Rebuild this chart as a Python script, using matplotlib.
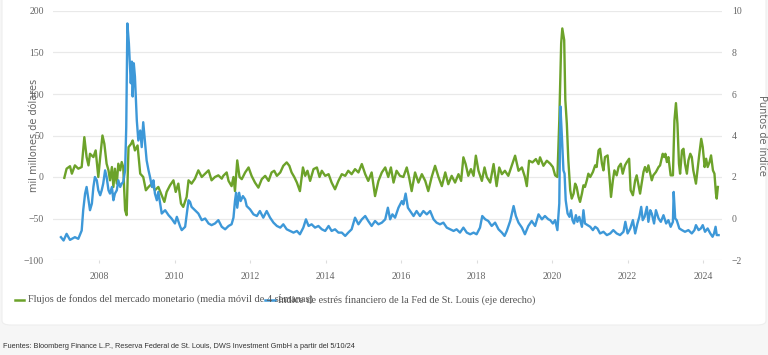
import matplotlib
matplotlib.use("Agg")
import matplotlib.pyplot as plt
from matplotlib.lines import Line2D
from matplotlib.patches import FancyBboxPatch

# ---------------- data ----------------
# Money market fund flows, 4-week moving average (bn USD, left axis)
green_year = [2007.08, 2007.14, 2007.23, 2007.28, 2007.36, 2007.45, 2007.54, 2007.61, 2007.67, 2007.72,
              2007.76, 2007.85, 2007.91, 2007.98, 2008.03, 2008.09, 2008.14, 2008.20, 2008.25, 2008.29,
              2008.34, 2008.38, 2008.42, 2008.47, 2008.51, 2008.56, 2008.60, 2008.64, 2008.69, 2008.73,
              2008.78, 2008.85, 2008.89, 2008.95, 2009.02, 2009.09, 2009.17, 2009.24, 2009.31, 2009.40,
              2009.48, 2009.57, 2009.66, 2009.73, 2009.79, 2009.88, 2009.97, 2010.03, 2010.10, 2010.17,
              2010.23, 2010.32, 2010.37, 2010.45, 2010.54, 2010.63, 2010.72, 2010.81, 2010.90, 2010.98,
              2011.07, 2011.16, 2011.25, 2011.29, 2011.38, 2011.43, 2011.51, 2011.56, 2011.60, 2011.66,
              2011.72, 2011.78, 2011.87, 2011.96, 2012.04, 2012.13, 2012.22, 2012.31, 2012.40, 2012.49,
              2012.57, 2012.64, 2012.71, 2012.80, 2012.88, 2012.97, 2013.04, 2013.10, 2013.17, 2013.24,
              2013.32, 2013.40, 2013.46, 2013.52, 2013.59, 2013.68, 2013.77, 2013.84, 2013.90, 2013.99,
              2014.08, 2014.16, 2014.25, 2014.34, 2014.43, 2014.52, 2014.60, 2014.69, 2014.78, 2014.87,
              2014.96, 2015.05, 2015.13, 2015.22, 2015.31, 2015.40, 2015.49, 2015.58, 2015.66, 2015.73,
              2015.80, 2015.88, 2015.97, 2016.06, 2016.15, 2016.21, 2016.28, 2016.37, 2016.46, 2016.55,
              2016.64, 2016.72, 2016.81, 2016.90, 2016.99, 2017.08, 2017.17, 2017.25, 2017.34, 2017.43,
              2017.52, 2017.59, 2017.65, 2017.71, 2017.78, 2017.85, 2017.92, 2017.98, 2018.05, 2018.14,
              2018.21, 2018.27, 2018.36, 2018.45, 2018.53, 2018.60, 2018.67, 2018.75, 2018.84, 2018.93,
              2019.02, 2019.11, 2019.20, 2019.28, 2019.33, 2019.39, 2019.48, 2019.57, 2019.64, 2019.68,
              2019.77, 2019.86, 2019.95, 2020.02, 2020.08, 2020.14, 2020.19, 2020.24, 2020.27, 2020.32,
              2020.35, 2020.39, 2020.43, 2020.48, 2020.52, 2020.57, 2020.61, 2020.65, 2020.70, 2020.74,
              2020.79, 2020.83, 2020.87, 2020.92, 2020.96, 2021.01, 2021.08, 2021.14, 2021.18, 2021.23,
              2021.27, 2021.32, 2021.36, 2021.40, 2021.47, 2021.52, 2021.56, 2021.61, 2021.65, 2021.71,
              2021.76, 2021.82, 2021.87, 2021.93, 2021.98, 2022.04, 2022.08, 2022.14, 2022.20, 2022.24,
              2022.29, 2022.33, 2022.38, 2022.42, 2022.46, 2022.51, 2022.55, 2022.60, 2022.64, 2022.68,
              2022.75, 2022.82, 2022.86, 2022.93, 2022.97, 2023.00, 2023.04, 2023.08, 2023.14, 2023.20,
              2023.24, 2023.28, 2023.32, 2023.36, 2023.39, 2023.44, 2023.48, 2023.52, 2023.57, 2023.61,
              2023.66, 2023.70, 2023.74, 2023.81, 2023.85, 2023.90, 2023.95, 2023.99, 2024.04, 2024.08,
              2024.12, 2024.17, 2024.21, 2024.26, 2024.30, 2024.34, 2024.36, 2024.39]
green_val = [-1, 10, 13, 4, 14, 10, 12, 48, 24, 14,
             28, 24, 32, 0, 24, 50, 40, 16, 8, -4,
             12, -12, 10, -8, 16, 8, 18, 12, -40, -46,
             36, 40, 44, 32, 38, 4, 0, -16, -12, -8,
             -16, -12, -22, -30, -18, -10, -4, -18, -8, -32,
             -36, -24, -4, -8, -2, 8, 0, 4, 8, -4,
             0, 2, -2, 1.4, 5.5, -4.7, -11, 0, -17, 20,
             0, -2.6, 5.5, 11.5, 1.4, -6.7, -12.8, -2.6, 1.4, -4.7,
             5.5, 7.5, 1.4, 5.5, 13.5, 17.6, 13.5, 5.5, 0, -6.7,
             -17, 11.5, 1.4, 7.5, -4.7, 9.5, 11.5, 0, 7.5, 1.4,
             3.4, -6.7, -14.8, -4.7, 3.4, 1.4, 7.5, 3.4, 9.5, 5.5,
             15.6, 3.4, -4.7, 5.5, -23, -4.7, 5.5, 11.5, 0, 11.5,
             -6.7, 7.5, 1.4, 0, 11.5, 0, -17, 5.5, -6.7, 3.4,
             -4.7, -17, 0, 13.5, 0, -11, 5.5, -8.7, 1.4, -6.7,
             3.4, -4.7, 23.7, 15.6, 1.4, 9.5, 1.4, 25.7, 7.5, -4.7,
             11.5, 0, -6.7, 15.6, -11, 11.5, 3.4, 7.5, 1.4, 13.5,
             25.7, 7.5, 11.5, 0, -11, 19.6, 17.6, 21.6, 15.6, 23.7,
             13.5, 19.6, 16, 12, 2, 0, 68, 161, 179, 165,
             93, 64, 20, -16, -26, -20, -8, -12, -24, -30,
             -20, -10, -12, -4, 4, 0, 6, 14, 12, 32,
             34, 16, 8, 24, 26, 0, -24, -4, 8, 2,
             12, 16, 4, 14, 18, 22, -16, -22, -4, 2,
             -10, -20, -6, 6, 12, 6, 14, 4, -4, 2,
             6, 12, 14, 28, 24, 28, 18, 24, 2, 2,
             68, 89, 64, 16, 4, 32, 34, 16, 4, 20,
             28, 24, 8, -8, 8, 28, 46, 36, 12, 22,
             12, 18, 26, 8, 4, -20, -26, -12]

# St. Louis Fed Financial Stress Index (index points, right axis)
blue_year = [2006.99, 2007.06, 2007.14, 2007.23, 2007.36, 2007.45, 2007.54, 2007.58, 2007.63, 2007.67,
             2007.72, 2007.76, 2007.81, 2007.85, 2007.89, 2007.94, 2007.98, 2008.03, 2008.07, 2008.11,
             2008.16, 2008.20, 2008.25, 2008.29, 2008.34, 2008.38, 2008.42, 2008.47, 2008.51, 2008.56,
             2008.60, 2008.64, 2008.69, 2008.72, 2008.75, 2008.79, 2008.84, 2008.87, 2008.89, 2008.92,
             2008.95, 2009.00, 2009.04, 2009.09, 2009.13, 2009.17, 2009.22, 2009.26, 2009.31, 2009.35,
             2009.40, 2009.44, 2009.48, 2009.53, 2009.57, 2009.62, 2009.66, 2009.75, 2009.84, 2009.92,
             2010.01, 2010.06, 2010.15, 2010.19, 2010.28, 2010.37, 2010.41, 2010.45, 2010.54, 2010.63,
             2010.72, 2010.81, 2010.90, 2010.98, 2011.07, 2011.16, 2011.25, 2011.34, 2011.43, 2011.51,
             2011.56, 2011.60, 2011.63, 2011.66, 2011.71, 2011.75, 2011.81, 2011.87, 2011.91, 2012.00,
             2012.09, 2012.18, 2012.26, 2012.35, 2012.44, 2012.53, 2012.62, 2012.71, 2012.80, 2012.88,
             2012.97, 2013.06, 2013.15, 2013.24, 2013.32, 2013.41, 2013.48, 2013.55, 2013.63, 2013.72,
             2013.81, 2013.90, 2013.99, 2014.08, 2014.16, 2014.25, 2014.34, 2014.43, 2014.52, 2014.60,
             2014.69, 2014.78, 2014.87, 2014.96, 2015.05, 2015.13, 2015.22, 2015.31, 2015.40, 2015.49,
             2015.58, 2015.65, 2015.71, 2015.77, 2015.84, 2015.93, 2016.02, 2016.06, 2016.12, 2016.18,
             2016.24, 2016.33, 2016.41, 2016.50, 2016.59, 2016.68, 2016.77, 2016.86, 2016.94, 2017.03,
             2017.12, 2017.21, 2017.30, 2017.39, 2017.47, 2017.56, 2017.65, 2017.74, 2017.83, 2017.92,
             2018.00, 2018.09, 2018.15, 2018.23, 2018.31, 2018.40, 2018.49, 2018.58, 2018.67, 2018.74,
             2018.80, 2018.89, 2018.98, 2019.04, 2019.11, 2019.20, 2019.28, 2019.37, 2019.46, 2019.55,
             2019.64, 2019.73, 2019.81, 2019.90, 2019.95, 2020.02, 2020.08, 2020.14, 2020.19, 2020.22,
             2020.26, 2020.30, 2020.33, 2020.36, 2020.41, 2020.46, 2020.50, 2020.54, 2020.58, 2020.63,
             2020.67, 2020.72, 2020.79, 2020.83, 2020.87, 2020.94, 2021.01, 2021.08, 2021.14, 2021.20,
             2021.27, 2021.36, 2021.45, 2021.54, 2021.62, 2021.71, 2021.80, 2021.89, 2021.94, 2022.00,
             2022.07, 2022.14, 2022.20, 2022.26, 2022.31, 2022.36, 2022.40, 2022.45, 2022.51, 2022.55,
             2022.60, 2022.64, 2022.70, 2022.75, 2022.82, 2022.88, 2022.95, 2023.02, 2023.08, 2023.14,
             2023.20, 2023.22, 2023.26, 2023.30, 2023.37, 2023.44, 2023.52, 2023.61, 2023.70, 2023.77,
             2023.81, 2023.88, 2023.94, 2023.99, 2024.05, 2024.12, 2024.19, 2024.25, 2024.29, 2024.33,
             2024.36, 2024.41]
blue_val = [-0.90, -1.06, -0.74, -1.03, -0.90, -0.98, -0.58, 0.40, 1.20, 1.52,
            0.88, 0.40, 0.72, 1.52, 2.00, 1.84, 1.36, 1.12, 1.36, 1.68,
            2.32, 2.00, 1.36, 1.20, 1.52, 0.88, 1.20, 1.36, 1.84, 1.52,
            1.68, 1.76, 2.32, 4.40, 9.40, 8.44, 6.52, 7.56, 5.88, 7.48,
            6.84, 4.72, 3.76, 4.24, 3.44, 4.64, 3.60, 2.80, 2.32, 2.00,
            1.52, 1.84, 1.20, 0.88, 1.28, 0.72, 0.24, 0.40, 0.16, 0.00,
            -0.24, 0.08, -0.40, -0.56, -0.40, 0.88, 0.80, 0.56, 0.40, 0.24,
            -0.08, 0.00, -0.24, -0.32, -0.24, -0.08, -0.40, -0.52, -0.36, -0.28,
            0.04, 0.84, 1.24, 0.52, 1.24, 0.84, 1.08, 0.92, 0.60, 0.44,
            0.20, 0.12, 0.36, 0.04, 0.36, 0.04, -0.20, -0.36, -0.44, -0.28,
            -0.52, -0.60, -0.68, -0.60, -0.76, -0.44, -0.04, -0.36, -0.28, -0.44,
            -0.36, -0.52, -0.60, -0.36, -0.60, -0.52, -0.68, -0.68, -0.84, -0.68,
            -0.52, 0.04, -0.28, -0.04, 0.12, -0.12, -0.36, -0.12, -0.28, -0.20,
            -0.04, 0.52, -0.04, 0.20, 0.04, 0.52, 0.84, 0.68, 1.20, 0.52,
            0.36, 0.12, 0.36, 0.12, 0.36, 0.20, 0.36, -0.04, -0.20, -0.28,
            -0.20, -0.44, -0.52, -0.60, -0.52, -0.68, -0.44, -0.68, -0.76, -0.68,
            -0.76, -0.44, 0.12, -0.04, -0.12, -0.36, -0.20, -0.52, -0.68, -0.84,
            -0.60, -0.12, 0.60, 0.12, -0.20, -0.44, -0.76, -0.36, -0.12, -0.36,
            0.20, -0.04, 0.12, -0.04, -0.08, -0.24, -0.08, -0.56, 0.72, 5.40,
            3.92, 2.32, 2.16, 0.88, 0.24, 0.08, 0.40, -0.08, -0.24, 0.16,
            -0.16, 0.08, -0.40, 0.40, -0.24, -0.32, -0.40, -0.56, -0.40, -0.48,
            -0.72, -0.64, -0.80, -0.72, -0.56, -0.72, -0.80, -0.64, -0.16, -0.72,
            -0.48, -0.08, -0.72, -0.24, 0.08, 0.56, -0.08, 0.08, 0.56, -0.16,
            0.40, 0.24, -0.24, 0.40, 0.00, -0.16, 0.16, -0.24, -0.08, -0.40,
            -0.16, 1.28, 0.00, -0.08, -0.48, -0.56, -0.64, -0.56, -0.72, -0.56,
            -0.32, -0.56, -0.48, -0.32, -0.64, -0.48, -0.72, -0.88, -0.72, -0.40,
            -0.80, -0.80]

x_ticks = [2008, 2010, 2012, 2014, 2016, 2018, 2020, 2022, 2024]
left_ticks = [-100, -50, 0, 50, 100, 150, 200]
right_ticks = [-2, 0, 2, 4, 6, 8, 10]

green_label = "Flujos de fondos del mercado monetario (media móvil de 4 semanas)"
blue_label = "Índice de estrés financiero de la Fed de St. Louis (eje derecho)"
left_title = "mil millones de dólares"
right_title = "Puntos de índice"
source_text = ("Fuentes: Bloomberg Finance L.P., Reserva Federal de St. Louis, "
               "DWS Investment GmbH a partir del 5/10/24")

# ---------------- style ----------------
GREEN = "#6ca22a"
BLUE = "#3d98d8"
TXT = "#666666"
SERIF = ["Liberation Serif", "DejaVu Serif"]
W, H = 768, 355

fig = plt.figure(figsize=(W / 100, H / 100), dpi=100)
fig.patch.set_facecolor("#f6f6f6")

card = FancyBboxPatch((2 / W, 1 - 325 / H), 764 / W, 325 / H + 0.05,
                      boxstyle="round,pad=0,rounding_size=0.012",
                      transform=fig.transFigure, facecolor="white",
                      edgecolor="#eeeeee", linewidth=0.8, zorder=-5)
fig.patches.append(card)

ax = fig.add_axes([53 / W, 1 - 260 / H, (722 - 53) / W, (260 - 11) / H])
ax.set_facecolor("none")
ax2 = ax.twinx()
ax2.set_facecolor("none")

ax.plot(green_year, green_val, color=GREEN, lw=1.7, solid_joinstyle="round")
ax2.plot(blue_year, blue_val, color=BLUE, lw=1.7, solid_joinstyle="round")

ax.set_xlim(2006.78, 2024.50)
ax.set_ylim(-100, 200)
ax2.set_ylim(-2, 10)

ax.set_yticks(left_ticks)
ax2.set_yticks(right_ticks)
ax.set_xticks(x_ticks)
ax.set_xticklabels([str(t) for t in x_ticks])

ax.grid(axis="y", color="#e9e9e9", lw=0.9)
ax.set_axisbelow(True)
for a in (ax, ax2):
    for s in a.spines.values():
        s.set_visible(False)

ax.tick_params(axis="y", length=0, pad=6.5, labelsize=7, labelcolor=TXT)
ax2.tick_params(axis="y", length=0, pad=7, labelsize=7, labelcolor=TXT)
ax.tick_params(axis="x", length=2.5, color="#dddddd", pad=6, labelsize=7, labelcolor=TXT)
for lab in ax.get_yticklabels() + ax2.get_yticklabels() + ax.get_xticklabels():
    lab.set_family(SERIF)

ax.set_ylabel(left_title, fontsize=7, color=TXT, family=["DejaVu Sans"])
ax.yaxis.set_label_coords((39 - 53) / (722 - 53), 0.5)
ax2.set_ylabel(right_title, fontsize=7, color=TXT, rotation=270, family=["DejaVu Sans"],
               va="center")
ax2.yaxis.set_label_coords((762 - 53) / (722 - 53), 0.5)

# legend (manual, reproducing overlapping entries)
ly = 1 - 299.5 / H
fig.add_artist(Line2D([15 / W, 24 / W], [ly, ly], color=GREEN, lw=1.8,
                      transform=fig.transFigure))
fig.text(28 / W, ly, green_label, fontsize=7.4, color="#555555", family=SERIF,
         va="center", ha="left")
fig.add_artist(Line2D([265 / W, 275 / W], [ly, ly], color=BLUE, lw=1.8,
                      transform=fig.transFigure))
fig.text(278 / W, ly, blue_label, fontsize=7.4, color="#555555", family=SERIF,
         va="center", ha="left")

fig.text(3 / W, 1 - 347 / H, source_text, fontsize=5.35, color="#333333",
         family=["Liberation Sans", "DejaVu Sans"], va="center", ha="left")

fig.savefig("out.png", dpi=100, facecolor=fig.get_facecolor())
